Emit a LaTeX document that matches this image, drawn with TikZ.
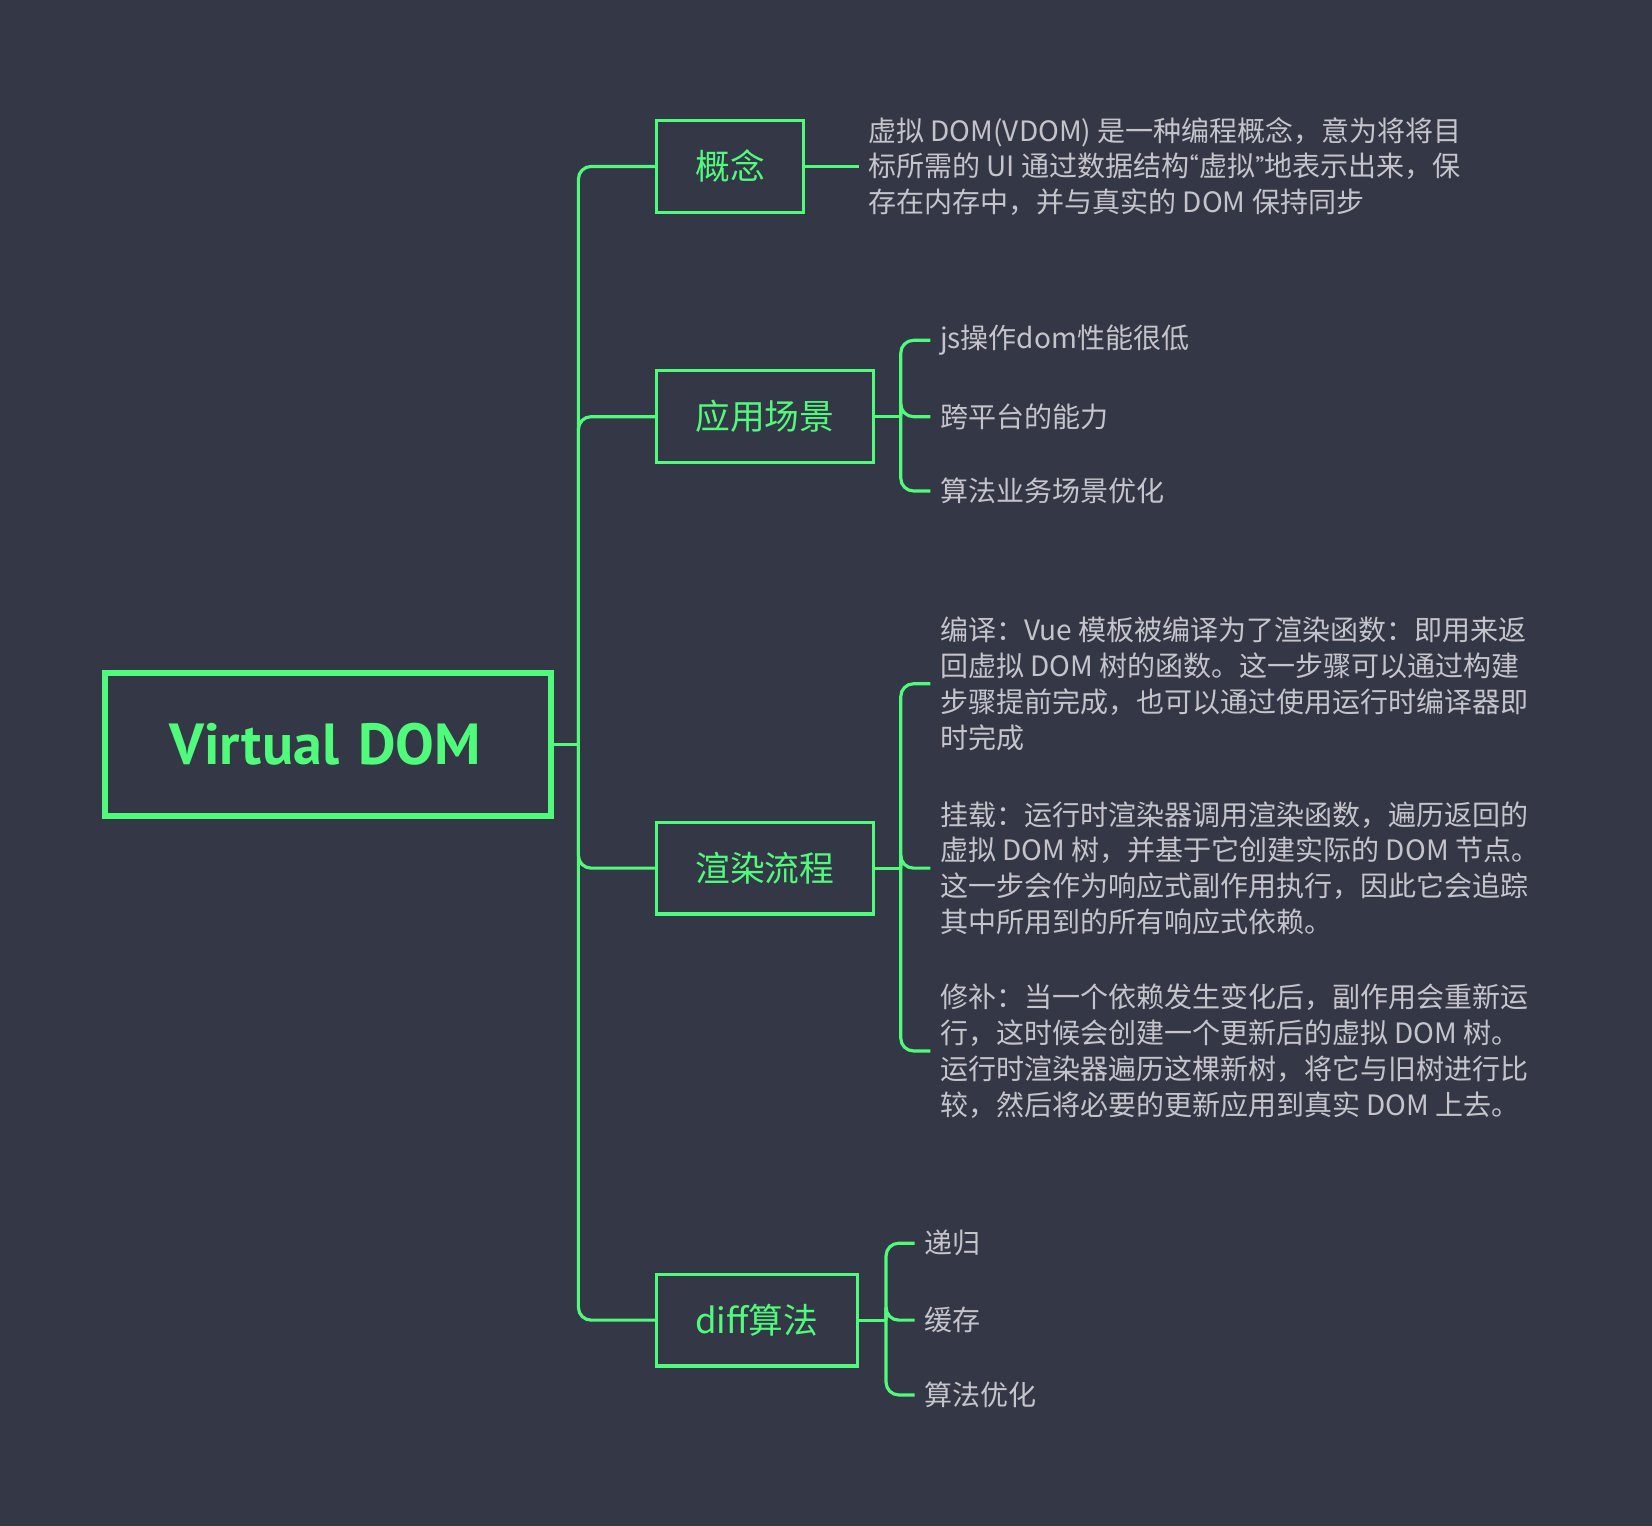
\documentclass[tikz,border=0pt]{standalone}
\usepackage{fontspec}
\setmainfont{Noto Sans CJK SC}
\newfontfamily\vdlatin{PT Sans}
\begin{document}
\begin{tikzpicture}[x=1pt,y=-1pt]
	\definecolor{vdbg}{HTML}{343746}
	\definecolor{vdgreen}{HTML}{50FA7B}
	\definecolor{vdgray}{HTML}{C4C4CA}
	\tikzset{vdroot/.style={draw=vdgreen, line width=5.5pt, text=vdgreen,
				font=\vdlatin\fontsize{55}{60}\selectfont\bfseries, minimum height=135.5pt,
				text width=301.5pt, inner xsep=61pt, align=left}}
	\tikzset{vdbox/.style={draw=vdgreen, line width=3pt, text=vdgreen,
				font=\fontsize{33}{40}\selectfont, minimum height=87pt, inner xsep=37pt}}
	\tikzset{vdtext/.style={text=vdgray, font=\fontsize{26.6}{34}\selectfont,
				align=left, anchor=west, inner xsep=9pt}}
	\tikzset{vdline/.style={draw=vdgreen, line width=3pt, rounded corners=12pt}}

	\fill[vdbg] (0,0) rectangle (1568,1448.4);
	\useasboundingbox (0,0) rectangle (1568,1448.4);

	\node[vdroot] (root) at (311.5,706.5) {\mbox{Virtual DOM}};
	\coordinate (t0) at (549,706.5);

	\node[vdbox, anchor=west] (b1) at (621.5,158) {概念};
	\node[vdbox, anchor=west] (b2) at (621.5,395.5) {应用场景};
	\node[vdbox, anchor=west] (b3) at (621.5,824) {渲染流程};
	\node[vdbox, anchor=west] (b4) at (621.5,1253) {diff算法};

	\draw[vdline] (root.east) -- (t0);
	\foreach \b in {b1,b2,b3,b4}
		\draw[vdline] (t0) |- (\b.west);

	\node[vdtext] (d1) at (815,158) {虚拟 DOM(VDOM) 是一种编程概念，意为将将目\\
		标所需的 UI 通过数据结构{\vdlatin “}虚拟{\vdlatin ”}地表示出来，保\\
		存在内存中，并与真实的 DOM 保持同步};
	\draw[vdline] (b1.east) -- (d1.west);

	\coordinate (s2) at (855,395.5);
	\node[vdtext] (c1) at (883,323) {js操作dom性能很低};
	\node[vdtext] (c2) at (883,395.5) {跨平台的能力};
	\node[vdtext] (c3) at (883,466) {算法业务场景优化};
	\draw[vdline] (b2.east) -- (s2);
	\foreach \c in {c1,c2,c3}
		\draw[vdline] (s2) |- (\c.west);

	\coordinate (s3) at (855,824);
	\node[vdtext] (r1) at (883,649) {编译：Vue 模板被编译为了渲染函数：即用来返\\
		回虚拟 DOM 树的函数。这一步骤可以通过构建\\
		步骤提前完成，也可以通过使用运行时编译器即\\
		时完成};
	\node[vdtext] (r2) at (883,824) {挂载：运行时渲染器调用渲染函数，遍历返回的\\
		虚拟 DOM 树，并基于它创建实际的 DOM 节点。\\
		这一步会作为响应式副作用执行，因此它会追踪\\
		其中所用到的所有响应式依赖。};
	\node[vdtext] (r3) at (883,997.5) {修补：当一个依赖发生变化后，副作用会重新运\\
		行，这时候会创建一个更新后的虚拟 DOM 树。\\
		运行时渲染器遍历这棵新树，将它与旧树进行比\\
		较，然后将必要的更新应用到真实 DOM 上去。};
	\draw[vdline] (b3.east) -- (s3);
	\foreach \r in {r1,r2,r3}
		\draw[vdline] (s3) |- (\r.west);

	\coordinate (s4) at (841,1253);
	\node[vdtext] (e1) at (868,1180) {递归};
	\node[vdtext] (e2) at (868,1253) {缓存};
	\node[vdtext] (e3) at (868,1324) {算法优化};
	\draw[vdline] (b4.east) -- (s4);
	\foreach \e in {e1,e2,e3}
		\draw[vdline] (s4) |- (\e.west);
\end{tikzpicture}
\end{document}
